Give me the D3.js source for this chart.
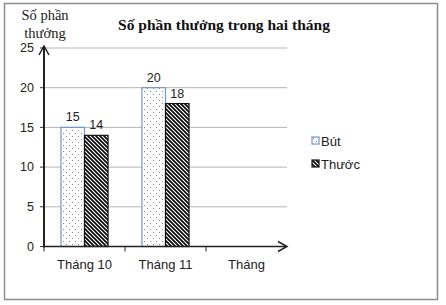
<!DOCTYPE html>
<html>
<head>
<meta charset="utf-8">
<script src="https://cdn.jsdelivr.net/npm/d3@7"></script>
<style>
  body { margin: 0; background: #fff; }
  svg { display: block; }
</style>
</head>
<body>
<script>
// Chart data
var months = ["Tháng 10", "Tháng 11"];
var seriesNames = ["Bút", "Thước"];
var butValues = [15, 20];
var thuocValues = [14, 18];
var yTicks = [0, 5, 10, 15, 20, 25];
var chartTitle = "Số phần thưởng trong hai tháng";
var yTitle = ["Số phần", "thưởng"];
var xTitle = "Tháng";

var width = 446, height = 305;
var sans = "'Liberation Sans', Arial, sans-serif",
    serif = "'Liberation Serif', 'Times New Roman', serif";

var svg = d3.select("body").append("svg")
    .attr("width", width)
    .attr("height", height);

// patterns
var defs = svg.append("defs");
var dots = defs.append("pattern")
    .attr("id", "dots")
    .attr("patternUnits", "userSpaceOnUse")
    .attr("width", 6).attr("height", 6);
dots.append("rect").attr("width", 6).attr("height", 6).attr("fill", "#fff");
dots.append("rect").attr("x", 1).attr("y", 1).attr("width", 1).attr("height", 1).attr("fill", "#888");
dots.append("rect").attr("x", 4).attr("y", 4).attr("width", 1).attr("height", 1).attr("fill", "#888");

var stripes = defs.append("pattern")
    .attr("id", "stripes")
    .attr("patternUnits", "userSpaceOnUse")
    .attr("width", 4).attr("height", 4);
stripes.append("rect").attr("width", 4).attr("height", 4).attr("fill", "#fff");
stripes.append("path")
    .attr("d", "M-1,-1 L5,5 M-1,3 L1,5 M3,-1 L5,1")
    .attr("stroke", "#000")
    .attr("stroke-width", 1.6);

// outer border
svg.append("rect")
    .attr("x", 4.5).attr("y", 3.5)
    .attr("width", 433).attr("height", 296)
    .attr("fill", "none")
    .attr("stroke", "#8c8c8c")
    .attr("stroke-width", 1.5);

// scales
var x = d3.scaleBand()
    .domain(months.concat([xTitle]))
    .range([44, 287]);

var x1 = d3.scaleBand()
    .domain(seriesNames)
    .range([0, x.bandwidth()])
    .paddingOuter(0.72);

var y = d3.scaleLinear()
    .domain([0, 25])
    .range([246.5, 48]);

// gridlines
svg.selectAll(".grid")
    .data(yTicks.slice(1))
    .enter().append("line")
    .attr("x1", 44).attr("x2", 287)
    .attr("y1", function(d){ return y(d); })
    .attr("y2", function(d){ return y(d); })
    .attr("stroke", "#b4b4b4")
    .attr("stroke-width", 1);

// y tick marks and labels
svg.selectAll(".ytick")
    .data(yTicks)
    .enter().append("line")
    .attr("x1", 40).attr("x2", 44)
    .attr("y1", function(d){ return y(d); })
    .attr("y2", function(d){ return y(d); })
    .attr("stroke", "#333");

svg.selectAll(".ylabel")
    .data(yTicks)
    .enter().append("text")
    .attr("x", 34)
    .attr("y", function(d){ return y(d); })
    .attr("dy", "0.35em")
    .attr("text-anchor", "end")
    .style("font-family", sans)
    .style("font-size", "12.5px")
    .attr("fill", "#222")
    .text(function(d){ return d; });

// bars
var rows = months.map(function(m, i){
    return {month: m, values: [
        {name: seriesNames[0], value: butValues[i]},
        {name: seriesNames[1], value: thuocValues[i]}
    ]};
});

var groups = svg.selectAll(".group")
    .data(rows)
    .enter().append("g")
    .attr("transform", function(d){ return "translate(" + x(d.month) + ",0)"; });

groups.selectAll("rect")
    .data(function(d){ return d.values; })
    .enter().append("rect")
    .attr("x", function(d){ return x1(d.name); })
    .attr("y", function(d){ return y(d.value); })
    .attr("width", x1.bandwidth())
    .attr("height", function(d){ return y(0) - y(d.value); })
    .attr("fill", function(d){ return d.name === seriesNames[0] ? "url(#dots)" : "url(#stripes)"; })
    .attr("stroke", function(d){ return d.name === seriesNames[0] ? "#6f97c9" : "#111"; })
    .attr("stroke-width", 1.2);

groups.selectAll(".val")
    .data(function(d){ return d.values; })
    .enter().append("text")
    .attr("x", function(d){ return x1(d.name) + x1.bandwidth() / 2; })
    .attr("y", function(d){ return y(d.value) - 6; })
    .attr("text-anchor", "middle")
    .style("font-family", sans)
    .style("font-size", "12.5px")
    .attr("fill", "#222")
    .text(function(d){ return d.value; });

// x axis
svg.append("line")
    .attr("x1", 43).attr("x2", 286)
    .attr("y1", y(0)).attr("y2", y(0))
    .attr("stroke", "#222")
    .attr("stroke-width", 1.5);
svg.append("path")
    .attr("d", "M278," + (y(0) - 5) + " L287," + y(0) + " L278," + (y(0) + 5))
    .attr("fill", "none")
    .attr("stroke", "#222")
    .attr("stroke-width", 1.5);

svg.selectAll(".xtick")
    .data(x.domain())
    .enter().append("line")
    .attr("x1", function(d){ return x(d); })
    .attr("x2", function(d){ return x(d); })
    .attr("y1", y(0)).attr("y2", y(0) + 5)
    .attr("stroke", "#222");

svg.selectAll(".xlabel")
    .data(x.domain())
    .enter().append("text")
    .attr("x", function(d){ return x(d) + x.bandwidth() / 2; })
    .attr("y", 269)
    .attr("text-anchor", "middle")
    .style("font-family", sans)
    .style("font-size", "13px")
    .attr("fill", "#222")
    .text(function(d){ return d; });

// y axis
svg.append("line")
    .attr("x1", 44).attr("x2", 44)
    .attr("y1", y(0) + 1).attr("y2", 47)
    .attr("stroke", "#222")
    .attr("stroke-width", 2);
svg.append("path")
    .attr("d", "M39,55 L44,46 L49,55")
    .attr("fill", "none")
    .attr("stroke", "#222")
    .attr("stroke-width", 1.5);

// titles
svg.append("text")
    .attr("x", 224).attr("y", 30)
    .attr("text-anchor", "middle")
    .style("font-family", serif)
    .style("font-size", "15.5px")
    .style("font-weight", "bold")
    .attr("fill", "#111")
    .text(chartTitle);

svg.selectAll(".ytitle")
    .data(yTitle)
    .enter().append("text")
    .attr("x", 45)
    .attr("y", function(d, i){ return 20 + i * 18; })
    .attr("text-anchor", "middle")
    .style("font-family", serif)
    .style("font-size", "14.5px")
    .attr("fill", "#222")
    .text(function(d){ return d; });

// legend
var legend = svg.selectAll(".legend")
    .data(seriesNames)
    .enter().append("g")
    .attr("transform", function(d, i){ return "translate(312," + (137 + i * 23) + ")"; });

legend.append("rect")
    .attr("width", 7).attr("height", 7)
    .attr("fill", function(d, i){ return i === 0 ? "url(#dots)" : "url(#stripes)"; })
    .attr("stroke", function(d, i){ return i === 0 ? "#6f97c9" : "#111"; })
    .attr("stroke-width", 1.2);

legend.append("text")
    .attr("x", 9).attr("y", 4)
    .attr("dy", "0.35em")
    .style("font-family", sans)
    .style("font-size", "13px")
    .attr("fill", "#222")
    .text(function(d){ return d; });
</script>
</body>
</html>
